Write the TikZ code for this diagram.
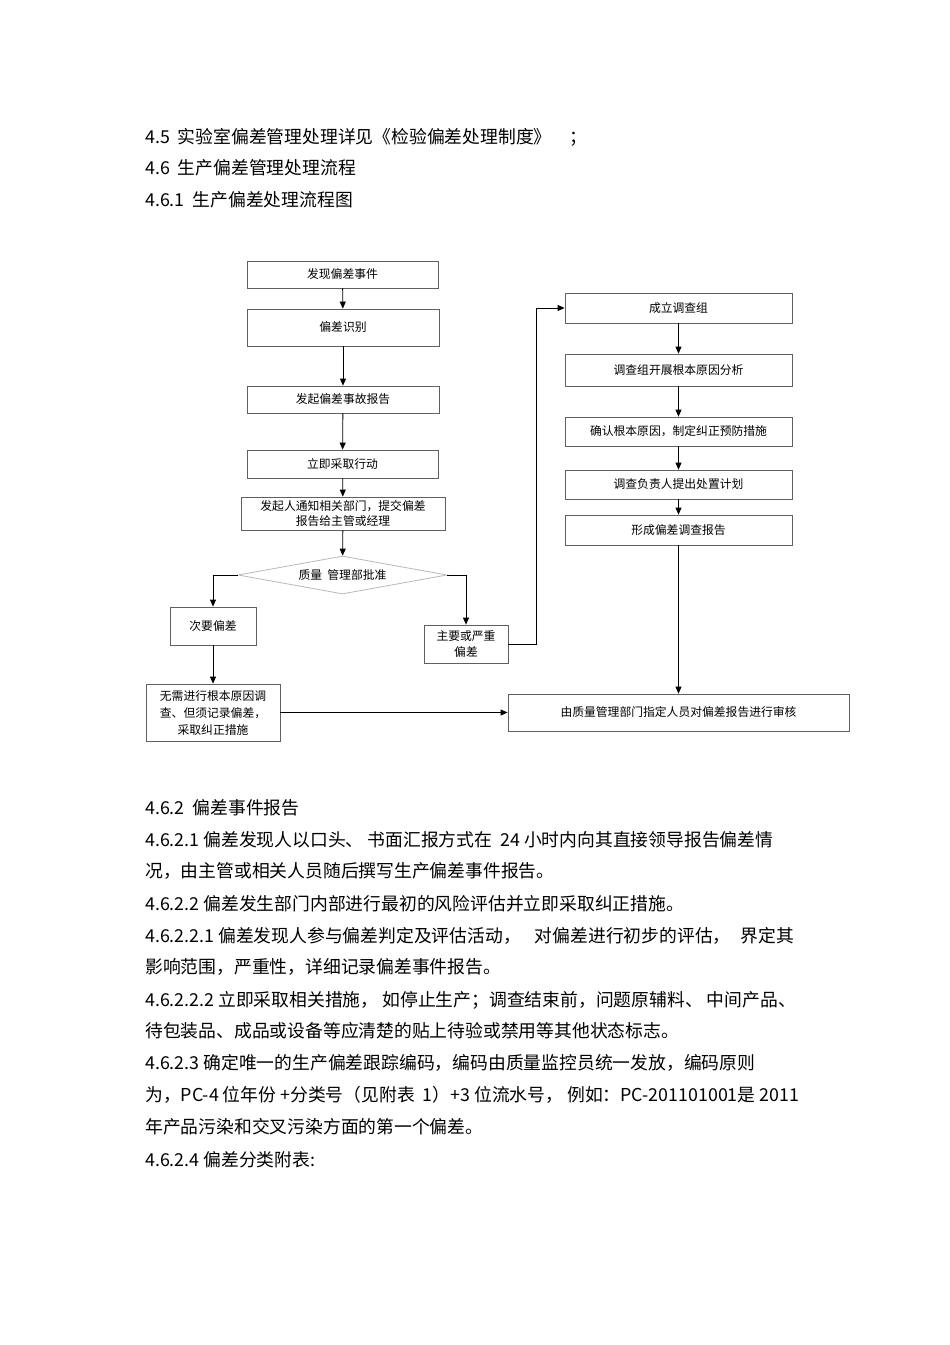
\documentclass[tikz,border=0pt]{standalone}
\usepackage{fontspec}
\setmainfont{Noto Sans CJK SC}
\usetikzlibrary{arrows.meta,shapes.geometric}

\newcommand{\bodyfont}{\fontsize{17.8}{20}\selectfont}
\newcommand{\boxfont}{\fontsize{11.8}{17}\selectfont}

\tikzset{
  box/.style={draw=gray!75!black, line width=0.8pt, inner sep=0pt, font=\boxfont, align=center},
  decide/.style={diamond, aspect=5.5, draw=gray!55, line width=0.8pt, inner sep=0pt, font=\boxfont},
  flow/.style={-{Triangle[length=7pt,width=6pt]}, line width=0.8pt},
  para/.style={anchor=west, inner sep=0pt, font=\bodyfont},
}

\begin{document}
\begin{tikzpicture}[x=1pt,y=-1pt]
\useasboundingbox[fill=white] (0,0) rectangle (950,1345);
% Section headings above the chart
\node[para] (h45) at (145,137) {4.5\ \ 实验室偏差管理处理详见《检验偏差处理制度》\hspace{18pt}；};
\node[para] (h46) at (145,168) {4.6\ \ 生产偏差管理处理流程};
\node[para] (h461) at (145,200) {4.6.1\ \ 生产偏差处理流程图};
% Left column: discovery and first actions
\node[box, minimum width=191pt, minimum height=27pt] (find) at (342.5,274.5) {发现偏差事件};
\node[box, minimum width=192pt, minimum height=37pt] (ident) at (343,327.5) {偏差识别};
\node[box, minimum width=192pt, minimum height=27pt] (report) at (343,399.5) {发起偏差事故报告};
\node[box, minimum width=191pt, minimum height=28pt] (act) at (342.5,464) {立即采取行动};
\node[box, minimum width=204pt, minimum height=33pt, font=\fontsize{11.8}{15}\selectfont] (notify) at (343,513.5) {发起人通知相关部门，提交偏差\\报告给主管或经理};
\node[decide, minimum width=209pt, minimum height=38pt] (qa) at (342.5,575) {质量\ \ 管理部批准};
\node[box, minimum width=86pt, minimum height=38pt] (minor) at (213,626) {次要偏差};
\node[box, minimum width=134pt, minimum height=57pt] (noroot) at (213,712.5) {无需进行根本原因调\\查、但须记录偏差，\\采取纠正措施};
\node[box, minimum width=84pt, minimum height=38pt, font=\fontsize{11.8}{16}\selectfont] (major) at (466,644) {主要或严重\\偏差};
% Right column: investigation
\node[box, minimum width=227pt, minimum height=30pt] (team) at (678.5,308) {成立调查组};
\node[box, minimum width=227pt, minimum height=32pt] (cause) at (678.5,370) {调查组开展根本原因分析};
\node[box, minimum width=227pt, minimum height=29pt] (capa) at (678.5,431.5) {确认根本原因，制定纠正预防措施};
\node[box, minimum width=227pt, minimum height=29pt] (plan) at (678.5,484.5) {调查负责人提出处置计划};
\node[box, minimum width=227pt, minimum height=30pt] (invrep) at (678.5,530) {形成偏差调查报告};
\node[box, minimum width=341pt, minimum height=37pt] (review) at (678.5,712.5) {由质量管理部门指定人员对偏差报告进行审核};
% Connectors
\draw[flow] (find) -- (ident);
\draw[flow] (ident) -- (report);
\draw[flow] (report) -- (act);
\draw[flow] (act) -- (notify);
\draw[flow] (notify) -- (qa);
\draw[flow] (qa.west) -| (minor.north);
\draw[flow] (qa.east) -| (major.north);
\draw[flow] (minor) -- (noroot);
\draw[flow] (noroot) -- (review);
\draw[flow] (major.east) -- ++(28,0) |- (team.west);
\draw[flow] (team) -- (cause);
\draw[flow] (cause) -- (capa);
\draw[flow] (capa) -- (plan);
\draw[flow] (plan) -- (invrep);
\draw[flow] (invrep) -- (review);
% Text below the chart
\node[para] (p462) at (145,808) {4.6.2\ \ 偏差事件报告};
\node[para] (p1a) at (145,840) {4.6.2.1 偏差发现人以口头、\ 书面汇报方式在\ \ 24 小时内向其直接领导报告偏差情};
\node[para] (p1b) at (145,871) {况，由主管或相关人员随后撰写生产偏差事件报告。};
\node[para] (p2) at (145,904) {4.6.2.2 偏差发生部门内部进行最初的风险评估并立即采取纠正措施。};
\node[para] (p3a) at (145,936) {4.6.2.2.1 偏差发现人参与偏差判定及评估活动，\hspace{14pt}对偏差进行初步的评估，\hspace{10pt}界定其};
\node[para] (p3b) at (145,967) {影响范围，严重性，详细记录偏差事件报告。};
\node[para] (p4a) at (145,1000) {4.6.2.2.2 立即采取相关措施，\ 如停止生产；调查结束前，问题原辅料、\ 中间产品、};
\node[para] (p4b) at (145,1031) {待包装品、成品或设备等应清楚的贴上待验或禁用等其他状态标志。};
\node[para] (p5a) at (145,1063) {4.6.2.3 确定唯一的生产偏差跟踪编码，编码由质量监控员统一发放，编码原则};
\node[para] (p5b) at (145,1095) {为，PC-4 位年份 +分类号（见附表\ \ 1）+3 位流水号，\ 例如：PC-201101001是 2011};
\node[para] (p5c) at (145,1127) {年产品污染和交叉污染方面的第一个偏差。};
\node[para] (p6) at (145,1160) {4.6.2.4 偏差分类附表:};
\end{tikzpicture}
\end{document}
